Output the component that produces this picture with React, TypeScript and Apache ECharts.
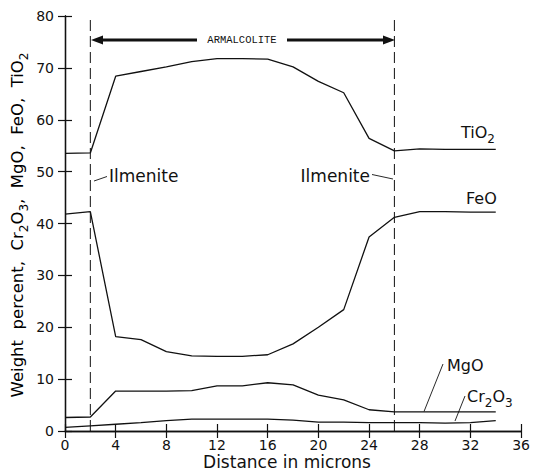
import React, { useEffect, useRef } from "react";
import * as echarts from "echarts";

const distance = [0, 2, 4, 6, 8, 10, 12, 14, 16, 18, 20, 22, 24, 26, 28, 30, 32, 34];
const tio2 = [53.5, 53.6, 68.4, 69.3, 70.2, 71.2, 71.8, 71.8, 71.7, 70.2, 67.4, 65.2, 56.4, 54.0, 54.4, 54.3, 54.3, 54.3];
const feo = [41.8, 42.3, 18.2, 17.6, 15.3, 14.5, 14.4, 14.4, 14.7, 16.8, 20.0, 23.4, 37.4, 41.2, 42.3, 42.3, 42.2, 42.2];
const mgo = [2.6, 2.7, 7.7, 7.7, 7.7, 7.8, 8.7, 8.7, 9.3, 8.9, 6.9, 6.0, 4.1, 3.7, 3.7, 3.7, 3.7, 3.7];
const cr2o3 = [0.7, 1.0, 1.3, 1.6, 2.0, 2.3, 2.3, 2.3, 2.3, 2.1, 1.7, 1.7, 1.6, 1.6, 1.6, 1.5, 1.6, 2.0];
const boundaries = [2, 26];

const FONT = "DejaVu Sans";
const INK = "#111";

export default function App() {
  const ref = useRef<HTMLDivElement>(null);
  useEffect(() => {
    document.body.style.margin = "0";
    const chart = echarts.init(ref.current!, null, { renderer: "svg" });
    const pair = (ys: number[]) => distance.map((x, i) => [x, ys[i]]);
    const lineSeries = (name: string, ys: number[]) => ({
      name,
      type: "line",
      data: pair(ys),
      showSymbol: false,
      symbol: "none",
      lineStyle: { color: INK, width: 1.3 },
      z: 3,
    });
    const axisCommon = {
      type: "value",
      axisLine: { show: true, lineStyle: { color: INK, width: 1.3 } },
      axisTick: { show: true, inside: true, length: 7, lineStyle: { color: INK, width: 1.2 } },
      splitLine: { show: false },
    };
    const mkRich = (fs: number) => ({
      n: { fontFamily: FONT, fontSize: fs, color: INK, lineHeight: fs + 2, verticalAlign: "top" },
      s: {
        fontFamily: FONT,
        fontSize: Math.round(fs * 0.72),
        color: INK,
        lineHeight: Math.round(fs * 0.72) + 2,
        padding: [Math.round(fs * 0.55), 0, 0, 0],
        verticalAlign: "top",
      },
    });
    const txt = (x: number, y: number, text: string, fs = 15, align = "left") => ({
      type: "text",
      x,
      y,
      z: 10,
      style: { text, fontFamily: FONT, fontSize: fs, fill: INK, align, verticalAlign: "middle", rich: mkRich(fs) },
    });
    const seg = (x1: number, y1: number, x2: number, y2: number, w = 1) => ({
      type: "line",
      z: 10,
      shape: { x1, y1, x2, y2 },
      style: { stroke: INK, lineWidth: w },
    });

    chart.setOption({
      animation: false,
      backgroundColor: "#fff",
      grid: { left: 65, right: 9, top: 16, bottom: 43 },
      xAxis: [
        {
          ...axisCommon,
          min: 0,
          max: 36,
          interval: 4,
          axisLabel: { color: INK, fontFamily: FONT, fontSize: 14, margin: 7 },
        },
        {
          ...axisCommon,
          position: "top",
          min: 0,
          max: 36,
          interval: 4,
          axisLabel: { show: false },
        },
      ],
      yAxis: [
        {
          ...axisCommon,
          min: 0,
          max: 80,
          interval: 10,
          axisLabel: { color: INK, fontFamily: FONT, fontSize: 14, margin: 11 },
        },
        {
          ...axisCommon,
          position: "right",
          min: 0,
          max: 80,
          interval: 10,
          axisLabel: { show: false },
        },
      ],
      series: [
        lineSeries("TiO2", tio2),
        lineSeries("FeO", feo),
        lineSeries("MgO", mgo),
        lineSeries("Cr2O3", cr2o3),
        ...boundaries.map((b) => ({
          type: "line",
          data: [
            [b, 0],
            [b, 80],
          ],
          symbol: "none",
          lineStyle: { color: INK, width: 1, type: [11, 5] },
          z: 2,
        })),
      ],
      graphic: [
        // y axis title
        {
          type: "text",
          x: 18,
          y: 225,
          rotation: Math.PI / 2,
          z: 10,
          style: {
            text: "{n|Weight  percent,  Cr}{s|2}{n|O}{s|3}{n|,  MgO,  FeO,  TiO}{s|2}",
            align: "center",
            verticalAlign: "middle",
            rich: mkRich(16.5),
          },
        },
        // x axis title
        txt(287, 462, "Distance in microns", 17, "center"),
        // armalcolite arrow
        seg(100, 40, 197, 40, 3.2),
        seg(287, 40, 386, 40, 3.2),
        { type: "polygon", z: 10, shape: { points: [[91, 40], [103, 35.5], [103, 44.5]] }, style: { fill: INK } },
        { type: "polygon", z: 10, shape: { points: [[395, 40], [383, 35.5], [383, 44.5]] }, style: { fill: INK } },
        {
          type: "text",
          x: 242,
          y: 40,
          z: 10,
          style: { text: "ARMALCOLITE", fontFamily: "Liberation Mono", fontSize: 10.5, fill: INK, align: "center", verticalAlign: "middle" },
        },
        // Ilmenite labels
        seg(94, 181, 107, 176.5, 0.9),
        txt(109, 176, "Ilmenite", 17),
        seg(372, 174.5, 393, 179, 0.9),
        txt(370, 176, "Ilmenite", 17, "right"),
        // species labels
        txt(461, 133, "{n|TiO}{s|2}", 16),
        txt(466, 198, "FeO", 16),
        txt(447, 365, "MgO", 16),
        seg(443, 364, 424, 411.5, 0.9),
        txt(467, 397, "{n|Cr}{s|2}{n|O}{s|3}", 16),
        seg(465, 396, 455, 421, 0.9),
      ],
    });
    return () => chart.dispose();
  }, []);
  return <div ref={ref} style={{ width: 533, height: 474 }} />;
}
